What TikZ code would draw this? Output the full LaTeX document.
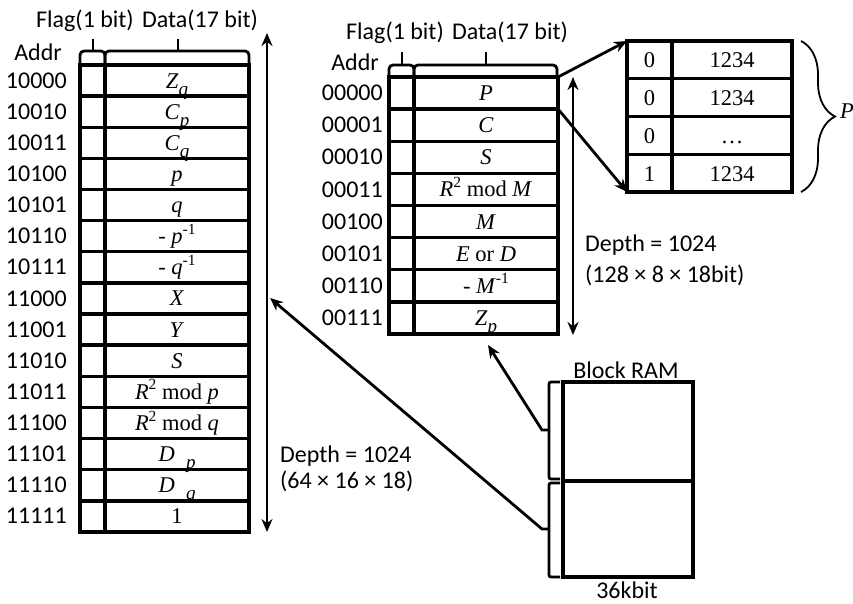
\documentclass[tikz,border=0pt]{standalone}
\usepackage{fontspec}
\setmainfont{Liberation Serif}
\newfontfamily\calibri{Carlito}
\usetikzlibrary{arrows.meta,decorations.pathreplacing}
\newcommand\mysub[1]{\raisebox{-0.32em}{\fontsize{19}{21}\selectfont\textit{#1}}}
\newcommand\mysup[1]{\raisebox{0.42em}{\fontsize{15.5}{17}\selectfont #1}}
\begin{document}
\begin{tikzpicture}[x=1pt,y=-1pt,
  grid/.style={line width=3.4pt},
  brk/.style={line width=2.8pt,rounded corners=4pt},
  lab/.style={font=\calibri\fontsize{24}{28}\selectfont,inner sep=0pt,anchor=base},
  addr/.style={font=\calibri\fontsize{24}{28}\selectfont,inner sep=0pt,anchor=base east},
  cell/.style={font=\fontsize{22.5}{26}\selectfont,inner sep=0pt,anchor=base},
  arr/.style={line width=2.8pt,-{Stealth[length=13pt,width=11pt]}},
  darr/.style={line width=2.8pt,{Stealth[length=13pt,width=11pt]}-{Stealth[length=13pt,width=11pt]}}]
\useasboundingbox (0,0) rectangle (853,603);

% ---------- left table ----------
\node[lab] (LF) at (85,27) {Flag(1 bit)};
\node[lab] (LD) at (200,27) {Data(17 bit)};
\node[lab] (LAddr) at (38,60) {Addr};
\foreach \a/\v [count=\i from 0] in {
  10000/{\textit{Z}\mysub{q}},
  10010/{\textit{C}\mysub{p}},
  10011/{\textit{C}\mysub{q}},
  10100/{\textit{p}},
  10101/{\textit{q}},
  10110/{- \textit{p}\mysup{-1}},
  10111/{- \textit{q}\mysup{-1}},
  11000/{\textit{X}},
  11001/{\textit{Y}},
  11010/{\textit{S}},
  11011/{\textit{R}\mysup{2} mod \textit{p}},
  11100/{\textit{R}\mysup{2} mod \textit{q}},
  11101/{\textit{D}\enspace\mysub{p}},
  11110/{\textit{D}\enspace\mysub{q}},
  11111/{1}} {
  \node[addr] (LA\i) at ({67},{65+31.13*(\i+0.5)+7.6}) {\a};
  \node[cell] (LC\i) at ({177},{65+31.13*(\i+0.5)+7.5}) {\v};
}
\draw[grid] (80,65) rectangle (249,532);
\draw[grid] (105,65) -- (105,532);
\foreach \k in {1,...,14} \draw[grid] (80,{65+31.13*\k}) -- (249,{65+31.13*\k});
\draw[brk] (80,64) -- (80,51) -- (105,51) -- (105,64);
\draw[brk] (105,64) -- (105,51) -- (249,51) -- (249,64);
\draw[line width=2.8pt] (93,51) -- (93,39);
\draw[line width=2.8pt] (178,51) -- (178,39);
\coordinate (LAt) at (267,33);
\coordinate (LAb) at (267,532);
\draw[darr] (LAt) -- (LAb);
\node[lab,anchor=base west] (LDep) at (280,462) {Depth = 1024};
\node[lab,anchor=base west] (LDim) at (280,488) {(64 × 16 × 18)};

% ---------- middle table ----------
\node[lab] (MF) at (395,39) {Flag(1 bit)};
\node[lab] (MD) at (510,39) {Data(17 bit)};
\node[lab] (MAddr) at (355,70) {Addr};
\foreach \a/\v [count=\i from 0] in {
  00000/{\textit{P}},
  00001/{\textit{C}},
  00010/{\textit{S}},
  00011/{\textit{R}\mysup{2} mod \textit{M}},
  00100/{\textit{M}},
  00101/{\textit{E} or \textit{D}},
  00110/{- \textit{M}\mysup{-1}},
  00111/{\textit{Z}\mysub{p}}} {
  \node[addr] (MA\i) at ({383},{77+32.125*(\i+0.5)+7.6}) {\a};
  \node[cell] (MC\i) at ({486},{77+32.125*(\i+0.5)+7.5}) {\v};
}
\draw[grid] (389,77) rectangle (558,334);
\draw[grid] (414,77) -- (414,334);
\foreach \k in {1,...,7} \draw[grid] (389,{77+32.125*\k}) -- (558,{77+32.125*\k});
\draw[brk] (389,76) -- (389,65) -- (414,65) -- (414,76);
\draw[brk] (414,76) -- (414,65) -- (557,65) -- (557,76);
\draw[line width=2.8pt] (402,65) -- (402,52);
\draw[line width=2.8pt] (486,65) -- (486,52);
\coordinate (MAt) at (573,77);
\coordinate (MAb) at (573,335);
\draw[darr] (MAt) -- (MAb);
\node[lab,anchor=base west] (MDep) at (585,251) {Depth = 1024};
\node[lab,anchor=base west] (MDim) at (585,282) {(128 × 8 × 18bit)};

% ---------- right table (P) ----------
\foreach \f/\d [count=\i from 0] in {0/1234,0/1234,0/…,1/1234} {
  \node[cell] (RF\i) at ({649.5},{41+37.75*(\i+0.5)+8}) {\f};
  \node[cell] (RD\i) at ({732},{41+37.75*(\i+0.5)+8}) {\d};
}
\draw[grid] (627,41) rectangle (792,192);
\draw[grid] (672,41) -- (672,192);
\foreach \k in {1,2,3} \draw[grid] (627,{41+37.75*\k}) -- (792,{41+37.75*\k});
\draw[line width=1.8pt,decorate,decoration={brace,amplitude=34pt}] (801,41) -- (801,192);
\node[cell] (RP) at (847,118) {\textit{P}};
\coordinate (Mtr) at (558,77);
\coordinate (Mr1) at (558,109);
\coordinate (Rtl) at (627,41);
\coordinate (Rbl) at (627,192);
\draw[arr] (Mtr) -- (Rtl);
\draw[arr] (Mr1) -- (Rbl);

% ---------- Block RAM ----------
\node[lab] (BRl) at (626,378) {Block RAM};
\node[lab] (BRk) at (627,598) {36kbit};
\draw[grid] (563,382) rectangle (693,577);
\draw[grid] (563,481) -- (693,481);
\draw[line width=2.8pt,rounded corners=2pt] (560,382) -- (549,382) -- (549,479) -- (560,479);
\draw[line width=2.8pt,rounded corners=2pt] (560,483) -- (549,483) -- (549,577) -- (560,577);
\coordinate (B1) at (549,430);
\coordinate (B2) at (549,529);
\coordinate (T1) at (488,345);
\coordinate (T2) at (270,298);
\draw[arr] (B1) -- (542,430) -- (T1);
\draw[arr] (B2) -- (542,529) -- (T2);
\end{tikzpicture}
\end{document}
